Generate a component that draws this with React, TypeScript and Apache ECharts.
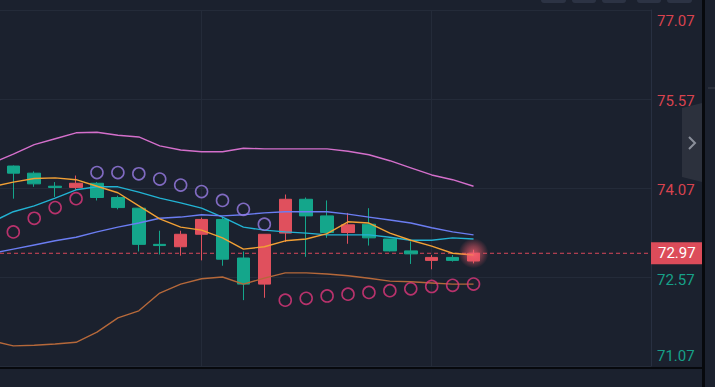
import { useEffect, useRef } from "react";
import * as echarts from "echarts";

// ---- data ----
const yTicks = [71.07, 72.57, 74.07, 75.57, 77.07];
const yInterval = 1.5;
const lastPrice = 72.97;

// [open, close, low, high]
const candles: number[][] = [
  [74.44, 74.32, 73.89, 74.45],
  [74.32, 74.14, 74.09, 74.35],
  [74.1, 74.08, 73.92, 74.17],
  [74.08, 74.15, 74.04, 74.28],
  [74.15, 73.91, 73.86, 74.17],
  [73.91, 73.74, 73.71, 73.94],
  [73.73, 73.12, 73.0, 73.73],
  [73.12, 73.1, 72.95, 73.35],
  [73.08, 73.29, 72.93, 73.35],
  [73.29, 73.54, 72.85, 73.57],
  [73.54, 72.87, 72.76, 73.59],
  [72.89, 72.45, 72.18, 73.0],
  [72.45, 73.29, 72.22, 73.29],
  [73.31, 73.88, 73.16, 73.96],
  [73.88, 73.6, 72.91, 73.91],
  [73.6, 73.32, 73.23, 73.86],
  [73.32, 73.45, 73.13, 73.65],
  [73.46, 73.23, 73.1, 73.73],
  [73.21, 73.01, 73.0, 73.21],
  [73.01, 72.96, 72.79, 73.17],
  [72.85, 72.9, 72.7, 72.94],
  [72.9, 72.85, 72.83, 72.94],
  [72.84, 72.97, 72.8, 73.03],
];

// parabolic SAR, one per candle
const sar = [
  73.33, 73.56, 73.74, 73.89, 74.33, 74.33, 74.31, 74.22, 74.12, 74.01, 73.86,
  73.71, 73.46, 72.18, 72.21, 72.25, 72.28, 72.31, 72.34, 72.37, 72.41, 72.43,
  72.45,
];

// indicator lines, starting one bar before the first visible candle (index -1)
const upperBand = [
  74.49, 74.64, 74.8, 74.9, 75.0, 75.01, 74.96, 74.93, 74.78, 74.71, 74.68,
  74.68, 74.74, 74.73, 74.73, 74.73, 74.73, 74.69, 74.63, 74.53, 74.41, 74.29,
  74.21, 74.1,
];
const midBand = [
  73.5, 73.67, 73.77, 73.9, 74.04, 74.09, 74.09, 74.0, 73.9, 73.82, 73.73,
  73.58, 73.41, 73.36, 73.33, 73.31, 73.28, 73.28, 73.28, 73.24, 73.19, 73.19,
  73.23, 73.21,
];
const lowerBand = [
  71.49, 71.41, 71.42, 71.44, 71.47, 71.64, 71.88, 72.0, 72.3, 72.45, 72.54,
  72.57, 72.45, 72.55, 72.64, 72.64, 72.62, 72.59, 72.55, 72.5, 72.49, 72.47,
  72.45, 72.45,
];
const maFast = [
  74.09, 74.17, 74.23, 74.24, 74.21, 74.1, 73.99, 73.77, 73.55, 73.41, 73.36,
  73.23, 73.04, 73.08, 73.18, 73.21, 73.3, 73.5, 73.48, 73.31, 73.19, 73.09,
  72.97, 72.94,
];
const maSlow = [
  72.97, 73.04, 73.11, 73.18, 73.24, 73.33, 73.41, 73.48, 73.56, 73.58, 73.62,
  73.6, 73.62, 73.65, 73.67, 73.67, 73.67, 73.63, 73.58, 73.53, 73.48, 73.4,
  73.33, 73.28,
];
const lineStart = -1;
const verticalGridAt = [9, 20];

// visible window in bar units
const xMin = -0.636;
const xMax = 30.483;

const RED = "#e0505d";
const TEAL = "#14a68b";
const LABEL_RED = "#d9434f";
const LABEL_TEAL = "#17a088";
const BG = "#1b212e";
const GRID = "#242b39";
const FONT = 'Roboto, "Noto Sans", Arial, sans-serif';

export default function App() {
  const ref = useRef<HTMLDivElement>(null);

  useEffect(() => {
    if (!ref.current) return;
    const chart = echarts.init(ref.current, null, { renderer: "svg" });

    const lineSeries = (data: number[], color: string) => ({
      type: "line",
      data: data.map((v, k) => [k + lineStart, v]),
      showSymbol: false,
      symbol: "none",
      silent: true,
      clip: true,
      z: 4,
      lineStyle: { color, width: 1.4 },
    });

    const sarAbove: number[][] = [];
    const sarBelow: number[][] = [];
    sar.forEach((v, i) => {
      if (v > candles[i][3]) sarAbove.push([i, v]);
      else sarBelow.push([i, v]);
    });

    const yMin = yTicks[0];
    const yMax = yTicks[yTicks.length - 1];
    const last = candles[candles.length - 1];

    const option: any = {
      animation: false,
      backgroundColor: BG,
      grid: { left: 0, right: 64, top: 10, bottom: 21 },
      xAxis: {
        type: "value",
        min: xMin,
        max: xMax,
        axisLine: { show: false },
        axisTick: { show: false },
        axisLabel: { show: false },
        splitLine: { show: false },
      },
      yAxis: {
        type: "value",
        position: "right",
        min: yMin,
        max: yMax,
        interval: yInterval,
        axisLine: { show: true, onZero: false, lineStyle: { color: "#283041", width: 1 } },
        axisTick: { show: false },
        splitLine: { show: true, lineStyle: { color: GRID, width: 1 } },
        axisLabel: {
          margin: 6,
          showMinLabel: true,
          showMaxLabel: true,
          formatter: (v: number) => {
            const s = v.toFixed(2);
            const c = v > lastPrice ? "r" : "g";
            const p =
              Math.abs(v - yMax) < 1e-6 ? "t" : Math.abs(v - yMin) < 1e-6 ? "b" : "m";
            return `{${c}${p}|${s}}`;
          },
          rich: {
            rt: { color: LABEL_RED, fontSize: 15, fontFamily: FONT, padding: [21, 0, 0, 0] },
            rm: { color: LABEL_RED, fontSize: 15, fontFamily: FONT, padding: [4, 0, 0, 0] },
            rb: { color: LABEL_RED, fontSize: 15, fontFamily: FONT, padding: [0, 0, 21, 0] },
            gt: { color: LABEL_TEAL, fontSize: 15, fontFamily: FONT, padding: [21, 0, 0, 0] },
            gm: { color: LABEL_TEAL, fontSize: 15, fontFamily: FONT, padding: [6, 0, 0, 0] },
            gb: { color: LABEL_TEAL, fontSize: 15, fontFamily: FONT, padding: [0, 0, 20, 0] },
          },
        },
      },
      series: [
        {
          type: "line",
          data: [],
          silent: true,
          markLine: {
            silent: true,
            symbol: "none",
            z: 1,
            animation: false,
            label: { show: false },
            lineStyle: { color: GRID, width: 1, type: "solid" },
            data: verticalGridAt.map((x) => ({ xAxis: x })),
          },
        },
        // current-price dashed line
        {
          type: "line",
          data: [
            [xMin, lastPrice],
            [xMax, lastPrice],
          ],
          showSymbol: false,
          symbol: "none",
          silent: true,
          z: 2,
          lineStyle: { color: "#d9485a", width: 1, type: [4, 3] },
          markLine: {
            silent: true,
            symbol: "none",
            z: 2,
            animation: false,
            lineStyle: { color: "rgba(0,0,0,0)", width: 1 },
            label: {
              show: true,
              position: "end",
              distance: 0,
              formatter: lastPrice.toFixed(2),
              color: "#ffffff",
              fontSize: 15,
              fontFamily: FONT,
              backgroundColor: "#dc4c5a",
              padding: [3, 7, 3, 7],
              lineHeight: 16,
              opacity: 1,
            },
            data: [{ yAxis: lastPrice }],
          },
        },
        {
          type: "candlestick",
          data: candles.map((c, i) => [i, c[0], c[1], c[2], c[3]]),
          encode: { x: 0, y: [1, 2, 3, 4] },
          barWidth: 13,
          z: 3,
          silent: true,
          itemStyle: {
            color: RED,
            color0: TEAL,
            borderColor: RED,
            borderColor0: TEAL,
            borderWidth: 1,
          },
        },
        lineSeries(upperBand, "#d46fcb"),
        lineSeries(lowerBand, "#b5683a"),
        lineSeries(midBand, "#22b3d3"),
        lineSeries(maSlow, "#6b7df2"),
        lineSeries(maFast, "#f2a035"),
        {
          type: "scatter",
          data: sarAbove,
          symbol: "circle",
          symbolSize: 12,
          silent: true,
          z: 5,
          itemStyle: { color: "rgba(0,0,0,0)", borderColor: "#9a7de6", borderWidth: 1.6 },
        },
        {
          type: "scatter",
          data: sarBelow,
          symbol: "circle",
          symbolSize: 12,
          silent: true,
          z: 5,
          itemStyle: { color: "rgba(0,0,0,0)", borderColor: "#e0377c", borderWidth: 1.6 },
        },
        {
          type: "scatter",
          data: [[candles.length - 1, last[1]]],
          symbol: "circle",
          symbolSize: 30,
          silent: true,
          z: 6,
          itemStyle: {
            color: new echarts.graphic.RadialGradient(0.5, 0.5, 0.5, [
              { offset: 0, color: "rgba(250,100,115,0.95)" },
              { offset: 0.45, color: "rgba(240,90,105,0.6)" },
              { offset: 1, color: "rgba(240,90,105,0)" },
            ]),
          },
        },
      ],
      graphic: [
        // frame
        { type: "rect", shape: { x: 0, y: 367, width: 703, height: 2 }, style: { fill: "#07090d" }, silent: true, z: 10 },
        { type: "rect", shape: { x: 702, y: 0, width: 3, height: 387 }, style: { fill: "#07090d" }, silent: true, z: 10 },
        { type: "rect", shape: { x: 708, y: 87, width: 7, height: 2 }, style: { fill: "#2b303c" }, silent: true, z: 10 },
        // top toolbar buttons (cut off)
        ...[
          [541, 25],
          [572, 24],
          [602, 24],
          [637, 24],
          [667, 25],
        ].map(([x, w]) => ({
          type: "rect",
          shape: { x, y: -8, width: w, height: 11, r: 3 },
          style: { fill: "#2c3344" },
          silent: true,
          z: 10,
        })),
        // collapse tab
        {
          type: "polygon",
          shape: { points: [[682, 108], [702, 103], [702, 182], [682, 177]] },
          style: { fill: "#2c313d" },
          silent: true,
          z: 10,
        },
        {
          type: "polyline",
          shape: { points: [[689, 137], [695, 143], [689, 149]] },
          style: { stroke: "#8a8f9a", lineWidth: 2, fill: "none" },
          silent: true,
          z: 11,
        },
      ],
    };

    chart.setOption(option);
    return () => chart.dispose();
  }, []);

  return (
    <div
      ref={ref}
      style={{ position: "fixed", left: 0, top: 0, width: 715, height: 387 }}
    />
  );
}
